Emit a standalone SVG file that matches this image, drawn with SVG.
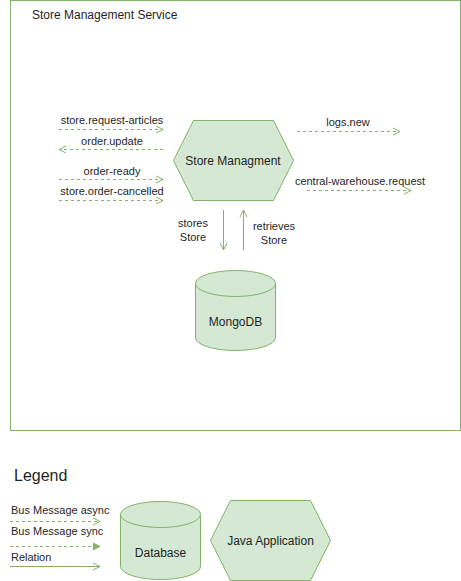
<svg xmlns="http://www.w3.org/2000/svg" width="461" height="581" viewBox="0 0 461 581">
<defs>
<style>
.t{font-family:"Liberation Sans",Arial,sans-serif;fill:#1f1f1f;}
.s11{font-size:11px;}
.s12{font-size:12px;}
.shape{fill:#d5e8d4;stroke:#82b366;stroke-width:1;}
.edge{fill:none;stroke:#82b366;stroke-width:1;}
.dash{stroke-dasharray:3 3;}
</style>
<marker id="open" markerUnits="userSpaceOnUse" markerWidth="10" markerHeight="10" refX="7" refY="4" orient="auto" viewBox="0 0 10 8">
<path d="M0,0.5 L7,4 L0,7.5" fill="none" stroke="#82b366" stroke-width="1"/>
</marker>
<marker id="filled" markerUnits="userSpaceOnUse" markerWidth="10" markerHeight="10" refX="7" refY="4" orient="auto" viewBox="0 0 10 8">
<path d="M0,0.5 L7,4 L0,7.5 Z" fill="#82b366" stroke="#82b366" stroke-width="1"/>
</marker>
</defs>
<rect width="461" height="581" fill="#ffffff"/>

<g id="service">
<rect x="10.5" y="0.5" width="450" height="430" fill="#ffffff" stroke="#82b366" stroke-width="1"/>
<text class="t s12" x="32" y="19">Store Management Service</text>
</g>

<g id="store-managment">
<polygon class="shape" points="173.5,160.5 193.5,120.5 273.5,120.5 293.5,160.5 273.5,200.5 193.5,200.5"/>
<text class="t s12" x="233" y="164.5" text-anchor="middle">Store Managment</text>
</g>

<g id="mongodb">
<path class="shape" d="M195.5,283.5 A40,13 0 0 1 275.5,283.5 L275.5,337.5 A40,13 0 0 1 195.5,337.5 Z"/>
<path class="edge" d="M195.5,283.5 A40,13 0 0 0 275.5,283.5"/>
<text class="t s12" x="235.5" y="326" text-anchor="middle">MongoDB</text>
</g>

<g id="connectors">
<path class="edge dash" d="M59,129.5 H163" marker-end="url(#open)"/>
<path class="edge dash" d="M163,149.5 H59" marker-end="url(#open)"/>
<path class="edge dash" d="M59,179.5 H163" marker-end="url(#open)"/>
<path class="edge dash" d="M59,200.5 H163" marker-end="url(#open)"/>
<path class="edge dash" d="M297,131.5 H400" marker-end="url(#open)"/>
<path class="edge dash" d="M307,190.5 H411" marker-end="url(#open)"/>
<path class="edge" d="M223.5,210 V250" marker-end="url(#open)"/>
<path class="edge" d="M243.5,250 V210" marker-end="url(#open)"/>
</g>

<g id="labels">
<text class="t s11" x="112" y="124" text-anchor="middle">store.request-articles</text>
<text class="t s11" x="112" y="145" text-anchor="middle">order.update</text>
<text class="t s11" x="112" y="175" text-anchor="middle">order-ready</text>
<text class="t s11" x="112" y="195" text-anchor="middle">store.order-cancelled</text>
<text class="t s11" x="348" y="126" text-anchor="middle">logs.new</text>
<text class="t s11" x="360" y="185" text-anchor="middle">central-warehouse.request</text>
<text class="t s11" x="193" y="227" text-anchor="middle">stores</text>
<text class="t s11" x="193" y="241" text-anchor="middle">Store</text>
<text class="t s11" x="274" y="230" text-anchor="middle">retrieves</text>
<text class="t s11" x="274" y="244" text-anchor="middle">Store</text>
</g>

<g id="legend">
<text class="t" style="font-size:16px" x="14" y="481">Legend</text>
<text class="t s11" x="11" y="514">Bus Message async</text>
<path class="edge dash" d="M10,521.5 H100" marker-end="url(#open)"/>
<text class="t s11" x="11" y="535">Bus Message sync</text>
<path class="edge dash" d="M10,546.5 H100" marker-end="url(#filled)"/>
<text class="t s11" x="11" y="561">Relation</text>
<path class="edge" d="M10,566.5 H100" marker-end="url(#open)"/>
</g>

<g id="legend-database">
<path class="shape" d="M120.5,514.5 A40,13 0 0 1 200.5,514.5 L200.5,566.5 A40,13 0 0 1 120.5,566.5 Z"/>
<path class="edge" d="M120.5,514.5 A40,13 0 0 0 200.5,514.5"/>
<text class="t s12" x="160.5" y="557" text-anchor="middle">Database</text>
</g>

<g id="legend-java">
<polygon class="shape" points="210.5,540.5 230.5,500.5 310.5,500.5 330.5,540.5 310.5,580.5 230.5,580.5"/>
<text class="t s12" x="270.5" y="544.5" text-anchor="middle">Java Application</text>
</g>
</svg>
